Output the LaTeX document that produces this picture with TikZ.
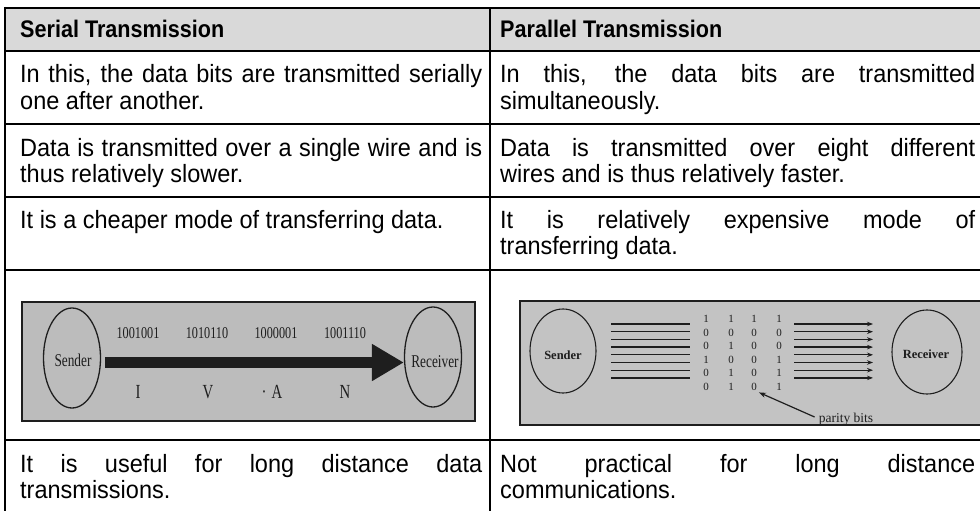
\documentclass[tikz,border=0pt]{standalone}
\usepackage{fontspec}
\usetikzlibrary{shapes.geometric,arrows.meta,calc}
\newfontfamily\tabfont[FakeStretch=0.94]{Liberation Sans}
\newfontfamily\hdfont[FakeStretch=0.9]{Liberation Sans}
\newfontfamily\imgfont[FakeStretch=0.74]{Liberation Serif}
\newfontfamily\pfont{Liberation Serif}
\definecolor{hdr}{HTML}{D9D9D9}
\definecolor{imgA}{HTML}{BCBCBC}
\definecolor{imgB}{HTML}{C3C3C3}
\definecolor{ink}{HTML}{1E1E1E}
\newcommand\J[2]{\hbox to #1pt{#2}}
\begin{document}
\begin{tikzpicture}[x=1pt,y=-1pt,
  tl/.style={anchor=base west,inner sep=0pt,font=\tabfont\fontsize{25}{26}\selectfont},
  hd/.style={anchor=base west,inner sep=0pt,font=\hdfont\bfseries\fontsize{24}{26}\selectfont},
  rule/.style={line width=2pt,black},
  oval/.style={draw=ink,ellipse,inner sep=0pt},
  ser/.style={inner sep=0pt,font=\imgfont\fontsize{#1}{#1}\selectfont,text=ink},
  par/.style={inner sep=0pt,font=\pfont\fontsize{#1}{#1}\selectfont,text=ink},
  parb/.style={inner sep=0pt,font=\pfont\bfseries\fontsize{#1}{#1}\selectfont,text=ink},
  wire/.style={line width=1.3pt,draw=ink}
]
\useasboundingbox (0,0) rectangle (980,511);
% header
\fill[hdr] (5,8) rectangle (990,51);
% rules
\foreach \yy in {8,51,124,197,270,440} \draw[rule] (4,\yy) -- (990,\yy);
\draw[rule] (5,7) -- (5,512);
\draw[line width=1.6pt] (490,8) -- (490,512);
% header text
\node[hd] (h1) at (20,38) {Serial Transmission};
\node[hd] (h2) at (500,38) {Parallel Transmission};
% row 1
\node[tl] (a1) at (20,83) {\J{462}{In this, the data bits are transmitted serially}};
\node[tl] (a2) at (20,109) {one after another.};
\node[tl] (b1) at (500,83) {\J{475}{In this, the data bits are transmitted}};
\node[tl] (b2) at (500,109) {simultaneously.};
% row 2
\node[tl] (a3) at (20,156) {\J{462}{Data is transmitted over a single wire and is}};
\node[tl] (a4) at (20,182) {thus relatively slower.};
\node[tl] (b3) at (500,156) {\J{475}{Data is transmitted over eight different}};
\node[tl] (b4) at (500,182) {wires and is thus relatively faster.};
% row 3
\node[tl] (a5) at (20,228) {It is a cheaper mode of transferring data.};
\node[tl] (b5) at (500,228) {\J{475}{It is relatively expensive mode of}};
\node[tl] (b6) at (500,254) {transferring data.};
% row 5
\node[tl] (a7) at (20,472) {\J{462}{It is useful for long distance data}};
\node[tl] (a8) at (20,498) {transmissions.};
\node[tl] (b7) at (500,472) {\J{475}{Not practical for long distance}};
\node[tl] (b8) at (500,498) {communications.};

% ---------- serial picture ----------
\fill[imgA] (22,302) rectangle (475,421);
\draw[ink,line width=1.2pt] (22,302) rectangle (475,421);
\draw[ink,line width=2pt] (475,302) -- (475,421);
\node[oval,line width=1.3pt,minimum width=57pt,minimum height=100pt] (s1) at (72,358) {};
\node[ser=18] (s1t) at (73,360) {Sender};
\node[oval,line width=1.3pt,minimum width=57pt,minimum height=100pt] (r1) at (433,357) {};
\node[ser=18] (r1t) at (435,362) {Receiver};
\draw[line width=11pt,ink,-{Triangle[length=32pt,width=35pt]}]
  ($(s1.east)+(4,4.5)$) -- ($(r1.west)+(0,5.5)$);
\node[ser=16.5] (c1) at (138,333) {1001001};
\node[ser=16.5] (c2) at (207,333) {1010110};
\node[ser=16.5] (c3) at (276,333) {1000001};
\node[ser=16.5] (c4) at (345,333) {1001110};
\node[ser=20] (l1) at (138,392) {I};
\node[ser=20] (l2) at (208,392) {V};
\node[ser=20] (l3) at (272,392) {·\hspace{5pt}A};
\node[ser=20] (l4) at (345,392) {N};

% ---------- parallel picture ----------
\fill[imgB] (520,301) rectangle (990,425);
\draw[ink,line width=1.2pt] (990,301) -- (520,301) -- (520,425) -- (990,425);
\node[oval,line width=1.1pt,minimum width=66pt,minimum height=84pt] (s2) at (563,351) {};
\node[parb=12.5] (s2t) at (563,355) {Sender};
\node[oval,line width=1.1pt,minimum width=70pt,minimum height=84pt] (r2) at (927,352) {};
\node[parb=12.5] (r2t) at (926,354) {Receiver};
\foreach \k in {0,...,7}{
  \draw[wire] (611,{324+7.7*\k}) -- (690,{324+7.7*\k});
  \draw[wire,-{Stealth[length=6pt,width=4.5pt]}] (794,{324+7.7*\k}) -- (873,{324+7.7*\k});
}
\foreach \bit [count=\r] in {1,0,0,1,0,0}{\node[par=11] (d1\r) at (706,{305.5+13.5*\r}) {\bit};}
\foreach \bit [count=\r] in {1,0,1,0,1,1}{\node[par=11] (d2\r) at (731,{305.5+13.5*\r}) {\bit};}
\foreach \bit [count=\r] in {1,0,0,0,0,0}{\node[par=11] (d3\r) at (754,{305.5+13.5*\r}) {\bit};}
\foreach \bit [count=\r] in {1,0,0,1,1,1}{\node[par=11] (d4\r) at (779,{305.5+13.5*\r}) {\bit};}
\node[par=13.5] (pb) at (846,419) {parity bits};
\draw[ink,line width=1.2pt,-{Stealth[length=7pt,width=5pt]}] ($(pb.west)+(-4,-2)$) -- ($(d36.south east)+(2,2)$);
\end{tikzpicture}
\end{document}
